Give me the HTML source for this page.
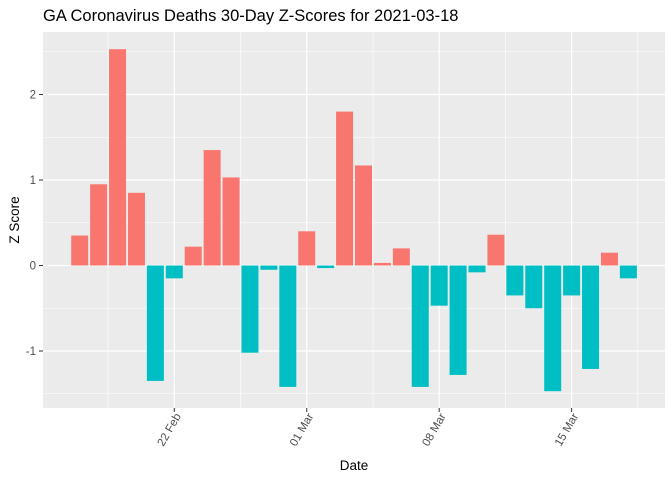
<!DOCTYPE html>
<html><head><meta charset="utf-8"><style>body{margin:0;background:#fff}svg{display:block;font-family:"Liberation Sans",Arial,sans-serif}</style></head>
<body>
<svg id="chart" width="672" height="480">
<text x="43" y="21" font-size="16.5" fill="#000">GA Coronavirus Deaths 30-Day Z-Scores for 2021-03-18</text>
<rect x="43" y="32" width="622" height="376" fill="#ebebeb"/>
<g id="grid"></g><g id="bars"></g><g id="axes"></g>
<text x="354" y="470" font-size="13.5" text-anchor="middle">Date</text>
<text transform="translate(19,220) rotate(-90)" font-size="13.5" text-anchor="middle">Z Score</text>
</svg>
<script>
const startDay = 0; // Feb 17 = day 0 (Feb 22 = day 5)
const values = [0.35,0.95,2.53,0.85,-1.35,-0.15,0.22,1.35,1.03,-1.02,-0.05,-1.42,0.40,-0.03,1.80,1.17,0.03,0.20,-1.42,-0.47,-1.28,-0.08,0.36,-0.35,-0.50,-1.47,-0.35,-1.21,0.15,-0.15];
const xTickDays = [5,12,19,26];
const xTickLabels = ["22 Feb","01 Mar","08 Mar","15 Mar"];
const yTicks = [-1,0,1,2];
const yMinor = [-1.5,-0.5,0.5,1.5,2.5];
const xMinorDays = [1.5,8.5,15.5,22.5,29.5];

const NS="http://www.w3.org/2000/svg";
const X=d=>174.3+(d-5)*18.92;
const Y=v=>265.5-v*85.5;
function mk(tag,attrs,parent){const e=document.createElementNS(NS,tag);for(const k in attrs)e.setAttribute(k,attrs[k]);document.getElementById(parent).appendChild(e);return e;}
yMinor.forEach(v=>{const e=mk('line',{x1:43,x2:665,y1:Y(v),y2:Y(v),stroke:'#fff','stroke-width':0.6},'grid');

});
xMinorDays.forEach(d=>{const e=mk('line',{x1:X(d),x2:X(d),y1:32,y2:408,stroke:'#fff','stroke-width':0.6},'grid');

});
yTicks.forEach(v=>{const e=mk('line',{x1:43,x2:665,y1:Y(v),y2:Y(v),stroke:'#fff','stroke-width':1.2},'grid');


const t=mk('line',{x1:39,x2:43,y1:Y(v),y2:Y(v),stroke:'#333','stroke-width':1},'axes');


const l=mk('text',{x:36,y:Y(v)+4,'font-size':11.5,fill:'#4d4d4d','text-anchor':'end'},'axes');l.textContent=v;

});
xTickDays.forEach((d,i)=>{const e=mk('line',{x1:X(d),x2:X(d),y1:32,y2:408,stroke:'#fff','stroke-width':1.2},'grid');


const t=mk('line',{x1:X(d),x2:X(d),y1:408,y2:412,stroke:'#333','stroke-width':1},'axes');


const l=mk('text',{transform:`translate(${X(d)+7},416) rotate(-60)`,'font-size':11.5,fill:'#4d4d4d','text-anchor':'end'},'axes');l.textContent=xTickLabels[i];

});
values.forEach((v,i)=>{const d=startDay+i;const y0=Y(0),y1=Y(v);
const b=mk('rect',{x:X(d)-8.5,width:17,y:Math.min(y0,y1),height:Math.abs(y1-y0),fill:v>=0?'#f8766d':'#00bfc4'},'bars');

});
</script>
</body></html>
